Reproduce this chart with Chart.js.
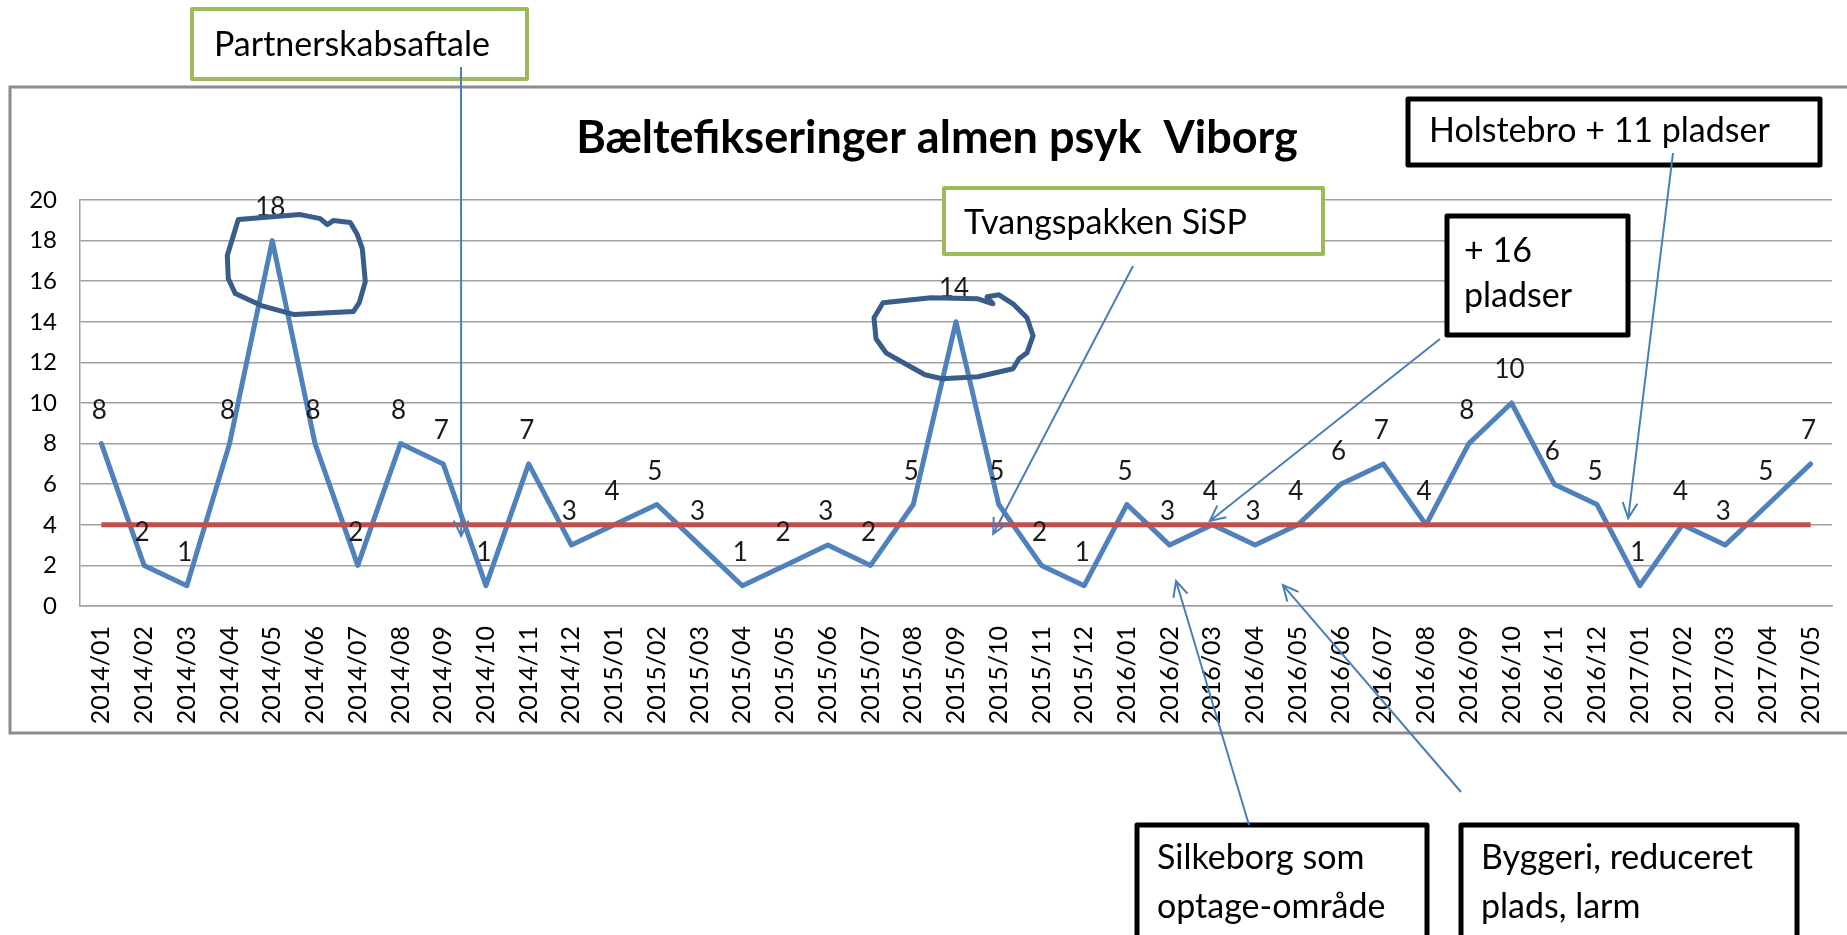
<!DOCTYPE html>
<html>
<head>
<meta charset="utf-8">
<script src="https://cdn.jsdelivr.net/npm/chart.js@4.4.0/dist/chart.umd.min.js"></script>
<style>
  html, body { margin: 0; padding: 0; background: #fff; }
  #wrap { width: 1847px; height: 935px; }
</style>
</head>
<body>
<div id="wrap"><canvas id="chart" width="1847" height="935"></canvas></div>
<script>
"use strict";

const months = [
  '2014/01', '2014/02', '2014/03', '2014/04', '2014/05', '2014/06', '2014/07', '2014/08', '2014/09', '2014/10', '2014/11', '2014/12',
  '2015/01', '2015/02', '2015/03', '2015/04', '2015/05', '2015/06', '2015/07', '2015/08', '2015/09', '2015/10', '2015/11', '2015/12',
  '2016/01', '2016/02', '2016/03', '2016/04', '2016/05', '2016/06', '2016/07', '2016/08', '2016/09', '2016/10', '2016/11', '2016/12',
  '2017/01', '2017/02', '2017/03', '2017/04', '2017/05'
];
const belts = [
  8, 2, 1, 8, 18, 8, 2, 8, 7, 1, 7, 3,
  4, 5, 3, 1, 2, 3, 2, 5, 14, 5, 2, 1,
  5, 3, 4, 3, 4, 6, 7, 4, 8, 10, 6, 5,
  1, 4, 3, 5, 7
];
const goal = [
  4, 4, 4, 4, 4, 4, 4, 4, 4, 4, 4, 4,
  4, 4, 4, 4, 4, 4, 4, 4, 4, 4, 4, 4,
  4, 4, 4, 4, 4, 4, 4, 4, 4, 4, 4, 4,
  4, 4, 4, 4, 4
];
const title_text = 'Bæltefikseringer almen psyk  Viborg';

// text boxes: box [x1, y1, x2, y2], arrow from a pixel to a (category index, value) point
const notes = [
  { lines: ['Partnerskabsaftale'], box: [192, 9, 527, 79], color: '#9BBB59', border: 4, text: [214, 45], from: [461, 67], to: [8.42, 3.45] },
  { lines: ['Tvangspakken SiSP'], box: [944, 188, 1323, 254], color: '#9BBB59', border: 4, text: [964, 223], from: [1133, 266], to: [20.87, 3.55] },
  { lines: ['Holstebro + 11 pladser'], box: [1408, 99, 1820, 165], color: '#000000', border: 5, text: [1429, 131], from: [1673, 153], to: [35.73, 4.33] },
  { lines: ['+ 16', 'pladser'], box: [1447, 216, 1628, 335], color: '#000000', border: 5, text: [1464, 251], lh: 45, from: [1440, 339], to: [25.94, 4.19] },
  { lines: ['Silkeborg som', 'optage-område'], box: [1137, 825, 1427, 945], color: '#000000', border: 5, text: [1157, 858], lh: 49, from: [1249, 825], to: [25.15, 1.23] },
  { lines: ['Byggeri, reduceret', 'plads, larm'], box: [1461, 825, 1797, 945], color: '#000000', border: 5, text: [1481, 858], lh: 49, from: [1461, 792], to: [27.65, 1.03] }
];

// hand drawn rings around the two peaks, offsets from the peak point
const rings = [
  { at: 4, pts: [[-34,-21],[28,-26],[48,-22],[55,-16],[61,-20],[78,-18],[85,-6],[90,8],[93,41],[87,62],[81,71],[22,74],[-11,65],[-37,53],[-44,38],[-45,15]] },
  { at: 20, pts: [[-73,-19],[-25,-24],[22,-23],[37,-18],[31,-25],[43,-27],[57,-18],[71,-4],[77,14],[71,31],[63,37],[57,47],[22,55],[-14,57],[-31,53],[-49,43],[-70,31],[-80,17],[-82,-4]] }
];

const FONT = 'Lato, "Open Sans", sans-serif';

function draw_arrow(ctx, x1, y1, x2, y2) {
  const ang = Math.atan2(y2 - y1, x2 - x1);
  const head = 17, spread = 0.45;
  ctx.beginPath();
  ctx.moveTo(x1, y1);
  ctx.lineTo(x2, y2);
  ctx.moveTo(x2 - head * Math.cos(ang - spread), y2 - head * Math.sin(ang - spread));
  ctx.lineTo(x2, y2);
  ctx.lineTo(x2 - head * Math.cos(ang + spread), y2 - head * Math.sin(ang + spread));
  ctx.stroke();
}

const decor = {
  id: 'decor',
  beforeDraw(chart) {
    const ctx = chart.ctx;
    ctx.save();
    ctx.fillStyle = '#ffffff';
    ctx.fillRect(0, 0, chart.width, chart.height);
    // outer frame of the chart object
    ctx.strokeStyle = '#8c8c8c';
    ctx.lineWidth = 3;
    ctx.strokeRect(10, 87, 1900, 646);
    ctx.restore();
  },
  afterDatasetsDraw(chart) {
    const ctx = chart.ctx;
    const meta = chart.getDatasetMeta(1);
    ctx.save();

    // value labels over the points
    ctx.font = '26px ' + FONT;
    ctx.fillStyle = '#1a1a1a';
    ctx.textAlign = 'center';
    ctx.textBaseline = 'middle';
    meta.data.forEach((pt, i) => {
      ctx.fillText(String(belts[i]), pt.x - 2, pt.y - 33);
    });

    // rings
    ctx.strokeStyle = '#385D8A';
    ctx.lineWidth = 5;
    ctx.lineJoin = 'round';
    rings.forEach(r => {
      const p = meta.data[r.at];
      ctx.beginPath();
      r.pts.forEach((o, k) => {
        if (k === 0) ctx.moveTo(p.x + o[0], p.y + o[1]);
        else ctx.lineTo(p.x + o[0], p.y + o[1]);
      });
      ctx.closePath();
      ctx.stroke();
    });

    // title
    ctx.font = 'bold 45px ' + FONT;
    ctx.fillStyle = '#000000';
    ctx.textAlign = 'center';
    ctx.textBaseline = 'alphabetic';
    ctx.fillText(title_text, 937, 153);

    // text boxes with arrows
    const xs = chart.scales.x, ys = chart.scales.y;
    notes.forEach(n => {
      const [x1, y1, x2, y2] = n.box;
      ctx.fillStyle = '#ffffff';
      ctx.fillRect(x1, y1, x2 - x1, y2 - y1);
      ctx.strokeStyle = n.color;
      ctx.lineWidth = n.border;
      ctx.strokeRect(x1, y1, x2 - x1, y2 - y1);
      ctx.font = '34px ' + FONT;
      ctx.fillStyle = '#000000';
      ctx.textAlign = 'left';
      ctx.textBaseline = 'middle';
      n.lines.forEach((line, k) => {
        ctx.fillText(line, n.text[0], n.text[1] + k * (n.lh || 0));
      });
    });
    ctx.strokeStyle = '#4A7EBB';
    ctx.lineWidth = 2;
    ctx.lineJoin = 'miter';
    notes.forEach(n => {
      const i0 = Math.floor(n.to[0]);
      const tx = xs.getPixelForValue(i0) + (n.to[0] - i0) * (xs.getPixelForValue(i0 + 1) - xs.getPixelForValue(i0));
      const ty = ys.getPixelForValue(n.to[1]);
      draw_arrow(ctx, n.from[0], n.from[1], tx, ty);
    });

    ctx.restore();
  }
};

new Chart(document.getElementById('chart'), {
  type: 'line',
  data: {
    labels: months,
    datasets: [
      {
        label: 'Mål',
        data: goal,
        borderColor: '#C0504D',
        borderWidth: 5,
        pointRadius: 0,
        tension: 0,
        order: 0,
      },
      {
        label: 'Bæltefikseringer',
        data: belts,
        borderColor: '#4F81BD',
        borderWidth: 5,
        borderJoinStyle: 'round',
        borderCapStyle: 'round',
        pointRadius: 0,
        tension: 0,
        order: 1,
      },
    ],
  },
  options: {
    responsive: false,
    animation: false,
    layout: { padding: { top: 200, right: 15, left: 0, bottom: 199 } },
    plugins: {
      legend: { display: false },
      tooltip: { enabled: false },
    },
    scales: {
      x: {
        offset: true,
        grid: { display: false },
        border: { display: true, color: '#a0a0a0', width: 1.5 },
        ticks: {
          autoSkip: false,
          minRotation: 90,
          maxRotation: 90,
          padding: 12,
          color: '#000000',
          font: { family: FONT, size: 25 },
        },
        afterFit(scale) {
          scale.height = 130;
          scale.paddingLeft = 0;
          scale.paddingRight = 0;
        },
      },
      y: {
        min: 0,
        max: 20,
        grid: { color: '#a0a0a0', lineWidth: 1.5, drawTicks: false },
        border: { display: true, color: '#a0a0a0', width: 1.5 },
        ticks: {
          stepSize: 2,
          padding: 23,
          color: '#000000',
          font: { family: FONT, size: 24 },
        },
        afterFit(scale) {
          scale.width = 80;
        },
      },
    },
  },
  plugins: [decor],
});
</script>
</body>
</html>
